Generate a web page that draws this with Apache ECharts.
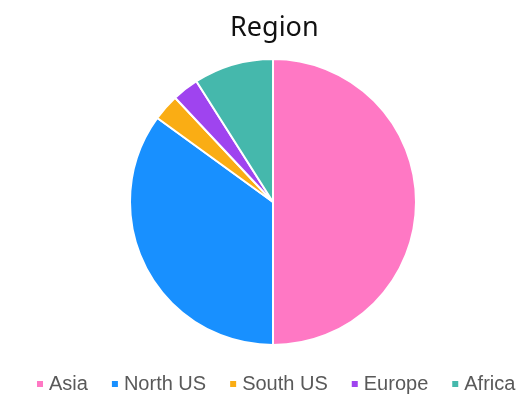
<!DOCTYPE html>
<html><head><meta charset="utf-8">
<script src="https://cdn.jsdelivr.net/npm/echarts@6/dist/echarts.min.js"></script>
<style>html,body{margin:0;padding:0;background:#fff}#c{width:530px;height:417px}</style>
</head><body><div id="c"></div>
<script>
const categories = ['Asia', 'North US', 'South US', 'Europe', 'Africa'];
const values = [50, 35, 3, 3, 9];
const colors = ['#FF78C4', '#1890FF', '#FAAD14', '#9F44EF', '#45B8AC'];

const chart = echarts.init(document.getElementById('c'));
chart.setOption({
  animation: false,
  title: {
    text: 'Region', left: 225, top: 10,
    textStyle: { fontFamily: 'Noto Sans', fontSize: 27, fontWeight: 'normal', color: '#111' }
  },
  legend: {
    top: 369, left: 30, width: 498, icon: 'rect', itemWidth: 8, itemHeight: 8, itemGap: 22,
    textStyle: { fontFamily: 'Liberation Sans', fontSize: 20, color: '#595959' },
    data: categories
  },
  series: [{
    type: 'pie', center: [273, 202], radius: 143, startAngle: 90, clockwise: true,
    label: { show: false }, labelLine: { show: false },
    itemStyle: { borderColor: '#fff', borderWidth: 2 },
    data: categories.map((n, i) => ({ name: n, value: values[i], itemStyle: { color: colors[i] } }))
  }]
});
</script></body></html>
